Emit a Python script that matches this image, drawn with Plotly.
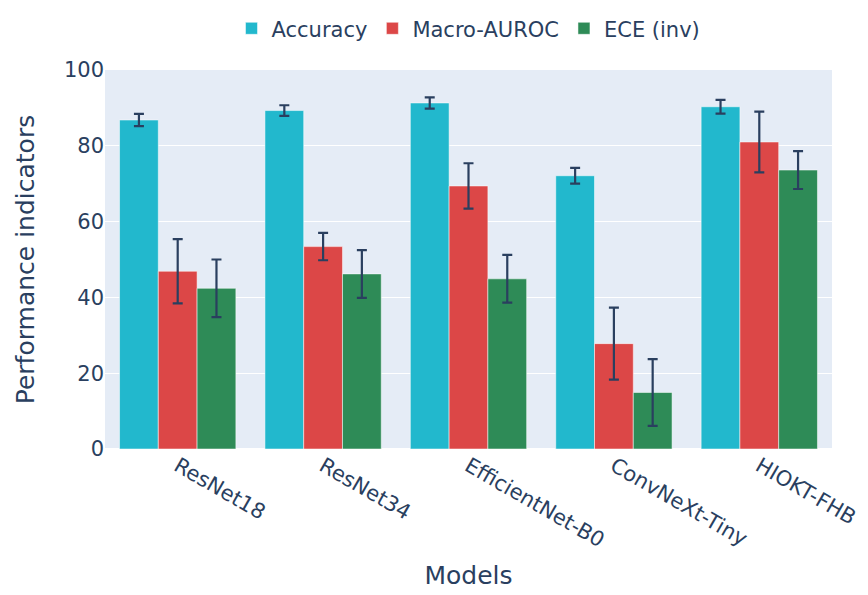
import plotly.graph_objects as go

models = ["ResNet18", "ResNet34", "EfficientNet-B0", "ConvNeXt-Tiny", "HIOKT-FHB"]

accuracy = [86.8, 89.3, 91.3, 72.1, 90.3]
accuracy_err = [1.6, 1.4, 1.5, 2.1, 1.8]

macro_auroc = [46.9, 53.4, 69.4, 27.8, 81.0]
macro_auroc_err = [8.5, 3.6, 6.0, 9.5, 8.0]

ece_inv = [42.4, 46.2, 44.9, 14.9, 73.6]
ece_inv_err = [7.6, 6.3, 6.3, 8.8, 5.0]

series = [
    ("Accuracy", accuracy, accuracy_err, "#22b8cd"),
    ("Macro-AUROC", macro_auroc, macro_auroc_err, "#dc4747"),
    ("ECE (inv)", ece_inv, ece_inv_err, "#2e8b57"),
]

fig = go.Figure()
for name, vals, errs, color in series:
    fig.add_trace(go.Bar(
        name=name,
        x=models,
        y=vals,
        marker=dict(color=color, line=dict(color="rgba(255,255,255,0.5)", width=1)),
        error_y=dict(type="data", array=errs, visible=True,
                     color="#2a3f5f", thickness=2.2, width=5),
    ))

fig.update_layout(
    template="plotly",
    width=868,
    height=595,
    barmode="group",
    bargap=0.2,
    font=dict(family="Verdana, DejaVu Sans, sans-serif", size=21, color="#2a3f5f"),
    margin=dict(l=105, r=36, t=70, b=146, autoexpand=False),
    legend=dict(orientation="h", x=0.5, xanchor="center", y=1.055, yanchor="bottom",
                font=dict(size=21)),
    xaxis=dict(title=dict(text="Models", font=dict(size=25)), tickangle=30,
               automargin=False),
    yaxis=dict(title=dict(text="Performance indicators", font=dict(size=25), standoff=22),
               range=[0, 100], dtick=20, automargin=False),
)

fig.write_html("out.html")
